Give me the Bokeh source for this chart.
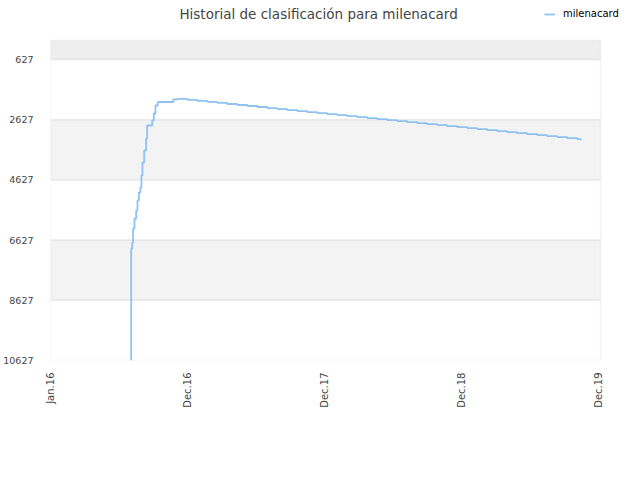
import math
from bokeh.plotting import figure
from bokeh.models import Range1d, FixedTicker, Legend, LegendItem, BoxAnnotation, Label
from bokeh.embed import file_html
from bokeh.resources import INLINE

# --- data ---------------------------------------------------------------
x_tick_pos = [0, 12, 24, 36, 48]
x_tick_labels = ["Jan.16", "Dec.16", "Dec.17", "Dec.18", "Dec.19"]
y_ticks = [627, 2627, 4627, 6627, 8627, 10627]

# months since the "Jan.16" axis start
months = [7.07, 7.07, 7.07, 7.16, 7.24, 7.36, 7.51, 7.62, 7.75, 7.88, 7.97,
          8.06, 8.21, 8.38, 8.47, 8.82, 8.91, 9.05, 9.20, 9.40, 10.75,
          11.12, 12.00, 12.88, 13.75, 14.63, 15.50, 16.38, 17.26, 18.13,
          19.01, 19.88, 20.76, 21.63, 22.51, 23.39, 24.26, 25.14, 26.01,
          26.89, 27.77, 28.64, 29.52, 30.39, 31.27, 32.15, 33.02, 33.90,
          34.77, 35.65, 36.53, 37.40, 38.28, 39.15, 40.03, 40.90, 41.78,
          42.66, 43.53, 44.41, 45.28, 46.16, 46.48]
rank = [10627, 9600, 6906, 6706, 6241, 5909, 5643, 5311, 5045, 4879, 4480,
        4049, 3650, 3251, 2820, 2820, 2653, 2421, 2155, 2039, 1956,
        1933, 1966, 2002, 2035, 2069, 2105, 2138, 2172, 2205,
        2241, 2275, 2308, 2345, 2378, 2411, 2444, 2477, 2511,
        2544, 2577, 2610, 2643, 2677, 2710, 2743, 2776, 2810,
        2843, 2876, 2909, 2942, 2975, 3009, 3042, 3075, 3108,
        3142, 3175, 3208, 3241, 3274, 3308]

series_name = "milenacard"
title_text = "Historial de clasificación para milenacard"

X_END = 48.2        # right edge of the visible plot box
Y_TOP = -4          # value at the top edge of the visible plot box
Y_BOTTOM = 10627

# --- figure -------------------------------------------------------------
# the drawing frame covers the whole area right of / above the axes so that
# the title and legend (drawn inside it) are not clipped
p = figure(width=640, height=480, output_backend="svg", toolbar_location=None,
           x_range=Range1d(0, 51.7), y_range=Range1d(Y_BOTTOM, -1333),
           min_border_left=50, min_border_right=0, min_border_top=0,
           min_border_bottom=120)
p.outline_line_color = None
p.background_fill_color = "white"
p.border_fill_color = "white"

# bands between ticks
band_edges = [Y_TOP] + y_ticks
band_fill = ["#eeeeee", "#ffffff", "#f3f3f3", "#ffffff", "#f3f3f3", "#ffffff"]
for b0, b1, c in zip(band_edges[:-1], band_edges[1:], band_fill):
    p.add_layout(BoxAnnotation(bottom=b0, top=b1, left=0, right=X_END,
                               fill_color=c, fill_alpha=1.0,
                               line_alpha=0, level="underlay"))
# grid lines / plot box (outlines drawn after all fills)
for b0, b1 in zip(band_edges[:-1], band_edges[1:]):
    p.add_layout(BoxAnnotation(bottom=b0, top=b1, left=0, right=X_END,
                               fill_alpha=0, line_color="#d8d8d8",
                               line_width=1.5, level="underlay"))

r = p.step(months, rank, mode="after", line_color="#8ec2f3", line_width=1.8)

# axes
for ax in (p.xaxis[0], p.yaxis[0]):
    ax.axis_line_color = None
    ax.major_tick_line_color = None
    ax.minor_tick_line_color = None
    ax.major_label_text_font = "DejaVu Sans"
    ax.major_label_text_color = "#444444"

p.xaxis.major_label_text_font_size = "10px"
p.yaxis.major_label_text_font_size = "9.5px"
p.xaxis.ticker = FixedTicker(ticks=x_tick_pos)
p.xaxis.major_label_overrides = {t: l for t, l in zip(x_tick_pos, x_tick_labels)}
p.xaxis.major_label_orientation = math.pi / 2
p.xaxis.major_label_standoff = 6
p.yaxis.ticker = FixedTicker(ticks=y_ticks)
p.yaxis.major_label_standoff = 11

p.xgrid.grid_line_color = None
p.ygrid.grid_line_color = None

# title
p.add_layout(Label(x=23.49, y=-901, text=title_text, text_align="center",
                   text_baseline="middle", text_font="DejaVu Sans",
                   text_font_size="13.5px", text_color="#444444"))

legend = Legend(items=[LegendItem(label=series_name, renderers=[r])],
                location=(494, 341), orientation="horizontal",
                background_fill_alpha=0, border_line_alpha=0,
                label_text_font="DejaVu Sans", label_text_font_size="10px",
                label_text_color="#000000", glyph_width=11, glyph_height=10,
                padding=0, margin=0, label_standoff=8)
p.add_layout(legend, "center")

open("out.html", "w").write(file_html(p, INLINE))
